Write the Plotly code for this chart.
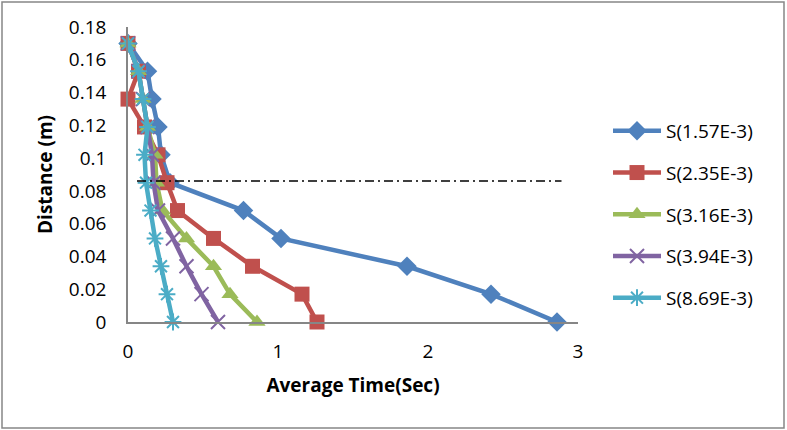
import plotly.graph_objects as go

distance = [0.17, 0.153, 0.136, 0.119, 0.102, 0.085, 0.068, 0.051, 0.034, 0.017, 0]
s157 = [0, 0.13, 0.16, 0.20, 0.22, 0.28, 0.77, 1.02, 1.86, 2.42, 2.86]
s235 = [0, 0.07, 0, 0.11, 0.20, 0.26, 0.33, 0.57, 0.83, 1.16, 1.26]
s316 = [0, 0.07, 0.10, 0.13, 0.18, 0.19, 0.23, 0.39, 0.57, 0.68, 0.86]
s394 = [0, 0.07, 0.10, 0.13, 0.16, 0.17, 0.20, 0.30, 0.39, 0.49, 0.60]
s869 = [0, 0.07, 0.10, 0.13, 0.11, 0.12, 0.15, 0.18, 0.22, 0.26, 0.30]
names = ["S(1.57E-3)", "S(2.35E-3)", "S(3.16E-3)", "S(3.94E-3)", "S(8.69E-3)"]
ref_x = [0.06, 2.89]
ref_y = [0.086, 0.086]
y_ticks = [0, 0.02, 0.04, 0.06, 0.08, 0.1, 0.12, 0.14, 0.16, 0.18]
y_labels = ["0", "0.02", "0.04", "0.06", "0.08", "0.1", "0.12", "0.14", "0.16", "0.18"]
x_ticks = [0, 1, 2, 3]

series = [s157, s235, s316, s394, s869]
colors = ["#4F81BD", "#C0504D", "#9BBB59", "#8064A2", "#4BACC6"]
symbols = ["diamond", "square", "triangle-up", "x-thin-open", "asterisk-open"]
msizes = [15, 15, 15, 14, 14]

W, H = 787, 430
L, R, T, B = 128, 209, 27, 108
pw, ph = W - L - R, H - T - B

fig = go.Figure()
for i, (vals, nm, c, sym, ms) in enumerate(zip(series, names, colors, symbols, msizes)):
    mk = dict(symbol=sym, size=ms, color=c)
    if "open" in sym:
        mk["line"] = dict(color=c, width=2)
    fig.add_trace(go.Scatter(
        x=vals, y=distance, name=nm, mode="lines+markers",
        line=dict(color=c, width=4.5), marker=mk,
        legendgroup=nm, cliponaxis=False))

fig.add_trace(go.Scatter(
    x=ref_x, y=ref_y, mode="lines", showlegend=False,
    line=dict(color="black", width=1.5, dash="9px,4px,2px,4px"), hoverinfo="skip"))

font = "Open Sans, Liberation Sans, sans-serif"
fig.update_layout(
    width=W, height=H,
    margin=dict(l=L, r=R, t=T, b=B),
    paper_bgcolor="white", plot_bgcolor="white",
    font=dict(family=font, size=19, color="black"),
    showlegend=True,
    legend=dict(x=(608 - L) / pw, y=(H - B - 112) / ph, xanchor="left", yanchor="top",
                xref="paper", yref="paper", itemwidth=48,
                font=dict(size=19, family=font), tracegroupgap=14,
                bgcolor="rgba(0,0,0,0)"),
    xaxis=dict(range=[0, 3], tickvals=x_ticks, showgrid=False, zeroline=False,
               showline=True, linecolor="#868686", linewidth=1.5, ticks="",
               ticklabelstandoff=11,
               title=dict(text="<b>Average Time(Sec)</b>", font=dict(size=19), standoff=16)),
    yaxis=dict(range=[0, 0.18], tickvals=y_ticks, ticktext=y_labels, showgrid=False,
               zeroline=False, showline=True, linecolor="#868686", linewidth=1.5,
               ticks="", ticklabelstandoff=16,
               title=dict(text="<b>Distance (m)</b>", font=dict(size=19), standoff=11)),
    shapes=[dict(type="rect", xref="paper", yref="paper",
                 x0=(2 - L) / pw, x1=(784 - L) / pw,
                 y0=(H - B - 428) / ph, y1=(H - B - 2) / ph,
                 line=dict(color="#868686", width=1.5), fillcolor="rgba(0,0,0,0)",
                 layer="below")],
)

fig.write_html("out.html", config={"displayModeBar": False},
               post_script="document.body.style.margin='0px';")
